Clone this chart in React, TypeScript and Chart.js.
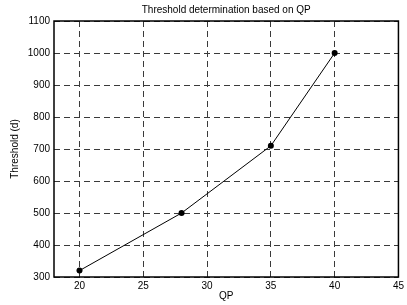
import React, { useEffect, useRef } from "react";
import { Chart, registerables } from "chart.js";

Chart.register(...registerables);

const qpValues = [20, 28, 35, 40];
const thresholdValues = [320, 500, 710, 1000];
const xTickValues = [20, 25, 30, 35, 40, 45];
const chartTitle = "Threshold determination based on QP";
const xTitle = "QP";
const yTitle = "Threshold (d)";

const FONT = "'Liberation Sans', Arial, Helvetica, sans-serif";

const decorPlugin = {
  id: "decor",
  afterDraw(chart: any) {
    const { ctx, chartArea } = chart;
    const { left, right, top, bottom } = chartArea;
    ctx.save();
    ctx.strokeStyle = "#000";
    ctx.lineWidth = 1.5;
    ctx.setLineDash([]);
    ctx.strokeRect(left, top, right - left, bottom - top);
    ctx.fillStyle = "#000";
    ctx.font = `10px ${FONT}`;
    ctx.textAlign = "center";
    ctx.textBaseline = "middle";
    const cx = (left + right) / 2;
    ctx.fillText(chartTitle, cx, 10);
    ctx.fillText(xTitle, cx, 296);
    ctx.translate(15, (top + bottom) / 2);
    ctx.rotate(-Math.PI / 2);
    ctx.fillText(yTitle, 0, 0);
    ctx.restore();
  },
};

export default function App() {
  const ref = useRef<HTMLCanvasElement>(null);
  useEffect(() => {
    document.body.style.margin = "0";
    const canvas = ref.current!;
    const chart = new Chart(canvas, {
      type: "line",
      data: {
        datasets: [
          {
            data: qpValues.map((x, i) => ({ x, y: thresholdValues[i] })),
            borderColor: "#000",
            backgroundColor: "#000",
            borderWidth: 1,
            pointRadius: 3,
            pointBackgroundColor: "#000",
            pointBorderWidth: 0,
            tension: 0,
          },
        ],
      },
      options: {
        animation: false,
        responsive: false,
        events: [],
        layout: { padding: { top: 21, right: 5, left: 0, bottom: 0 } },
        plugins: {
          legend: { display: false },
          tooltip: { enabled: false },
          title: { display: false },
        },
        scales: {
          x: {
            type: "linear",
            min: 18,
            max: 45,
            afterBuildTicks: (axis: any) => {
              axis.ticks = xTickValues.map((v) => ({ value: v }));
            },
            afterFit: (axis: any) => {
              axis.height = 28;
            },
            grid: { color: "#3a3a3a", lineWidth: 1, drawTicks: false },
            border: { display: false, dash: [6, 4] },
            ticks: {
              color: "#000",
              font: { family: FONT, size: 10 },
              padding: 3,
              maxRotation: 0,
              autoSkip: false,
              callback: (v: any) => String(v),
            },
          },
          y: {
            type: "linear",
            min: 300,
            max: 1100,
            afterFit: (axis: any) => {
              axis.width = 54;
            },
            grid: { color: "#3a3a3a", lineWidth: 1, drawTicks: false },
            border: { display: false, dash: [6, 4] },
            ticks: {
              stepSize: 100,
              color: "#000",
              font: { family: FONT, size: 10 },
              padding: 4,
              callback: (v: any) => String(v),
            },
          },
        },
      },
      plugins: [decorPlugin],
    } as any);
    return () => chart.destroy();
  }, []);
  return (
    <div style={{ width: 407, height: 305, background: "#fff" }}>
      <canvas ref={ref} width={407} height={305} />
    </div>
  );
}
